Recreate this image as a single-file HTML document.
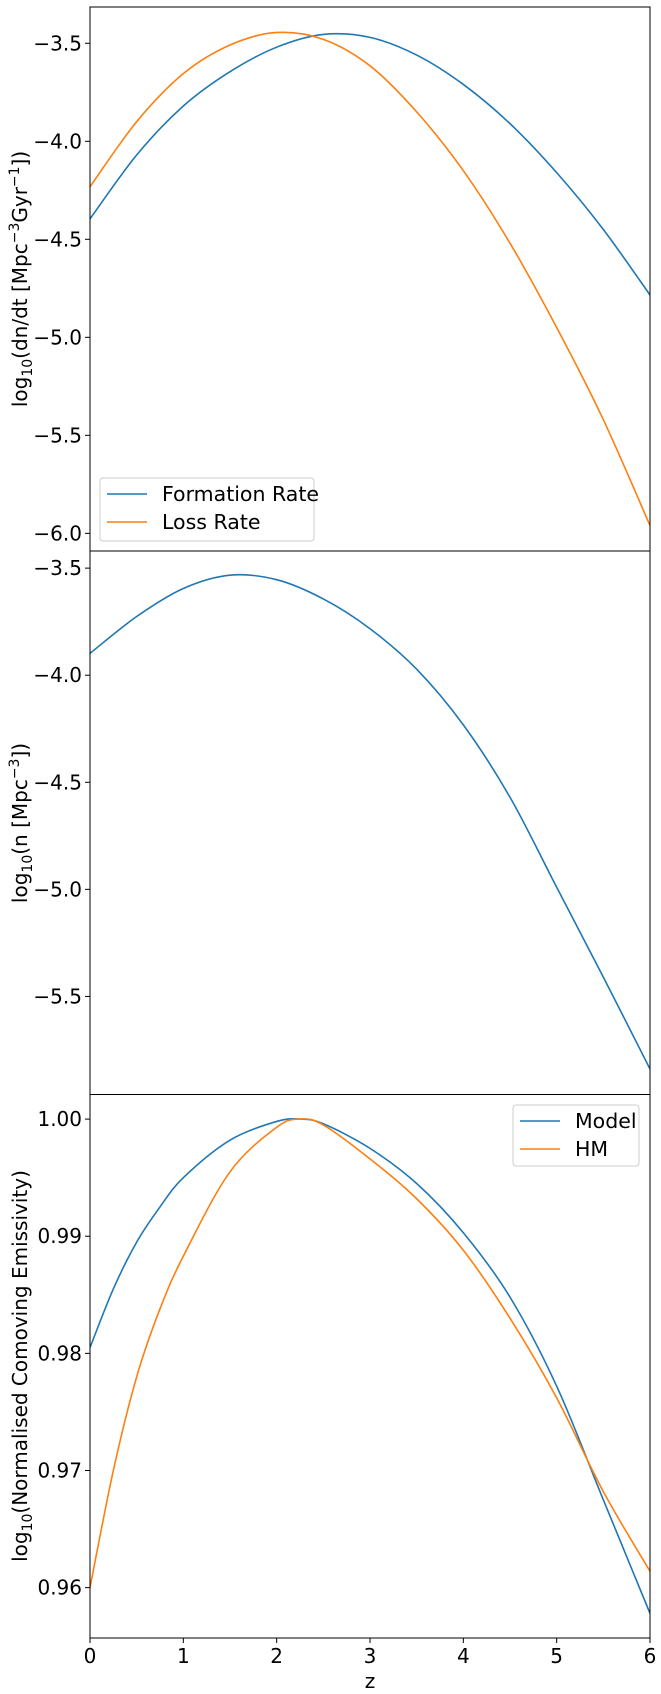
<!DOCTYPE html>
<html><head><meta charset="utf-8"><style>
html,body{margin:0;padding:0;background:#fff;}
svg{display:block;font-family:"DejaVu Sans","Liberation Sans",sans-serif;}
</style></head><body>
<svg id="chart" width="661" height="1694" viewBox="0 0 661 1694" xmlns="http://www.w3.org/2000/svg"></svg>
<script>
const zValues = [0,0.5,1,1.5,2,2.5,3,3.5,4,4.5,5,5.5,6];
const formationRate = [-4.396,-4.07,-3.82,-3.645,-3.52,-3.455,-3.47,-3.56,-3.71,-3.91,-4.16,-4.45,-4.784];
const lossRate = [-4.232,-3.90,-3.655,-3.509,-3.445,-3.48,-3.615,-3.85,-4.15,-4.52,-4.95,-5.42,-5.96];
const numberDensity = [-3.898,-3.726,-3.595,-3.533,-3.554,-3.644,-3.783,-3.972,-4.232,-4.57,-4.99,-5.41,-5.839];
const zEmis = [0,0.25,0.5,0.75,1,1.5,2,2.25,2.5,3,3.5,4,4.5,5,5.5,6];
const modelEmis = [0.9805,0.9855,0.9895,0.9925,0.9950,0.9982,0.9998,1.0000,0.9996,0.9975,0.9945,0.9903,0.9848,0.9772,0.9675,0.9578];
const hmEmis = [0.9600,0.9700,0.9780,0.9838,0.9883,0.9955,0.9993,1.0000,0.9995,0.9966,0.9932,0.9888,0.9830,0.9762,0.9682,0.9614];
const xTicks = [0,1,2,3,4,5,6];
const ticks1 = [-3.5,-4.0,-4.5,-5.0,-5.5,-6.0];
const ticks2 = [-3.5,-4.0,-4.5,-5.0,-5.5];
const ticks3 = [1.00,0.99,0.98,0.97,0.96];

const NS = "http://www.w3.org/2000/svg";
const svg = document.getElementById('chart');
const X0 = 90, X1 = 650;
function xs(z){ return X0 + (z-0)/(6-0)*(X1-X0); }
function mk(tag, attrs, parent){
  const e = document.createElementNS(NS, tag);
  for (const k in attrs) e.setAttribute(k, attrs[k]);
  (parent||svg).appendChild(e); return e;
}
function smoothPath(px){
  let d = "M"+px[0][0].toFixed(2)+","+px[0][1].toFixed(2);
  for (let i=0;i<px.length-1;i++){
    const p0=px[Math.max(0,i-1)], p1=px[i], p2=px[i+1], p3=px[Math.min(px.length-1,i+2)];
    const c1=[p1[0]+(p2[0]-p0[0])/6, p1[1]+(p2[1]-p0[1])/6];
    const c2=[p2[0]-(p3[0]-p1[0])/6, p2[1]-(p3[1]-p1[1])/6];
    d += " C"+c1[0].toFixed(2)+","+c1[1].toFixed(2)+" "+c2[0].toFixed(2)+","+c2[1].toFixed(2)+" "+p2[0].toFixed(2)+","+p2[1].toFixed(2);
  }
  return d;
}
function panel(name, top, bottom, ymin, ymax, ticks, fmt, series, labelParts, labelY){
  const ys = v => bottom - (v-ymin)/(ymax-ymin)*(bottom-top);
  const g = mk('g', {});
  
  
  const clipId = name+'-clip';
  const cp = mk('clipPath', {id:clipId}, g);
  mk('rect', {x:X0, y:top, width:X1-X0, height:bottom-top}, cp);
  series.forEach(s=>{
    const pts = s.x.map((z,i)=>[xs(z), ys(s.y[i])]);
    const p = mk('path', {d:smoothPath(pts), fill:'none', stroke:s.color, 'stroke-width':1.6, 'clip-path':'url(#'+clipId+')'}, g);
    
    
  });
  ticks.forEach(t=>{
    const y = ys(t);
    const tl = mk('line', {x1:X0-5, x2:X0, y1:y, y2:y, stroke:'#000', 'stroke-width':1}, g);
    
    
    const tx = mk('text', {x:X0-8, y:y+7, 'text-anchor':'end', 'font-size':20, fill:'#000'}, g);
    tx.textContent = fmt(t);
    
    
  });
  const fr = mk('rect', {x:X0, y:top, width:X1-X0, height:bottom-top, fill:'none', stroke:'#000', 'stroke-width':1}, g);
  
  
  const lab = mk('text', {transform:'translate(27,'+labelY+') rotate(-90)', 'text-anchor':'middle', 'font-size':20, fill:'#000'}, g);
  
  
  labelParts.forEach(pt=>{
    const ts = mk('tspan', {}, lab);
    if (pt[1]==='sub'){ ts.setAttribute('font-size', 14); ts.setAttribute('dy', 5); }
    else if (pt[1]==='sup'){ ts.setAttribute('font-size', 14); ts.setAttribute('dy', -8); }
    else if (pt[1]==='back-sub'){ ts.setAttribute('dy', -5); }
    else if (pt[1]==='back-sup'){ ts.setAttribute('dy', 8); }
    ts.textContent = pt[0];
  });
  return ys;
}
const minus = t => t.toFixed(1).replace('-', '\u2212');
const BLUE = '#1f77b4', ORANGE = '#ff7f0e';

panel('formation-loss-panel', 7, 551, -6.09, -3.315, ticks1, minus,
  [{name:'formation-rate-line', x:zValues, y:formationRate, color:BLUE},
   {name:'loss-rate-line', x:zValues, y:lossRate, color:ORANGE}],
  [['log','n'],['10','sub'],['(dn/dt [Mpc','back-sub'],['\u22123','sup'],['Gyr','back-sup'],['\u22121','sup'],['])','back-sup']], 279);

panel('number-density-panel', 551, 1094.5, -5.958, -3.42, ticks2, minus,
  [{name:'number-density-line', x:zValues, y:numberDensity, color:BLUE}],
  [['log','n'],['10','sub'],['(n [Mpc','back-sub'],['\u22123','sup'],['])','back-sup']], 823);

panel('emissivity-panel', 1094.5, 1638, 0.9557, 1.0021, ticks3, t=>t.toFixed(2),
  [{name:'model-line', x:zEmis, y:modelEmis, color:BLUE},
   {name:'hm-line', x:zEmis, y:hmEmis, color:ORANGE}],
  [['log','n'],['10','sub'],['(Normalised Comoving Emissivity)','back-sub']], 1366);

xTicks.forEach(t=>{
  const x = xs(t);
  const l = mk('line', {x1:x, x2:x, y1:1638, y2:1643, stroke:'#000', 'stroke-width':1});
  
  
  const tx = mk('text', {x:x, y:1663, 'text-anchor':'middle', 'font-size':20, fill:'#000'});
  tx.textContent = String(t);
  
  
});
const xl = mk('text', {x:(X0+X1)/2, y:1688, 'text-anchor':'middle', 'font-size':20, fill:'#000'});
xl.textContent = 'z';



function legend(name, x, y, w, h, entries){
  const g = mk('g', {});
  
  
  mk('rect', {x:x, y:y, width:w, height:h, rx:3, fill:'#fff', 'fill-opacity':0.8, stroke:'#ccc', 'stroke-width':1}, g);
  entries.forEach((e,i)=>{
    const cy = y + 16 + i*28;
    const ln = mk('line', {x1:x+7, x2:x+47, y1:cy, y2:cy, stroke:e[1], 'stroke-width':1.6}, g);
    
    
    const t = mk('text', {x:x+62, y:cy+7, 'font-size':20.5, fill:'#000'}, g);
    t.textContent = e[0];
    
    
  });
}
legend('rates-legend', 100, 478, 214, 63, [['Formation Rate', BLUE], ['Loss Rate', ORANGE]]);
legend('emissivity-legend', 513, 1105, 126, 61, [['Model', BLUE], ['HM', ORANGE]]);
</script>
</body></html>
